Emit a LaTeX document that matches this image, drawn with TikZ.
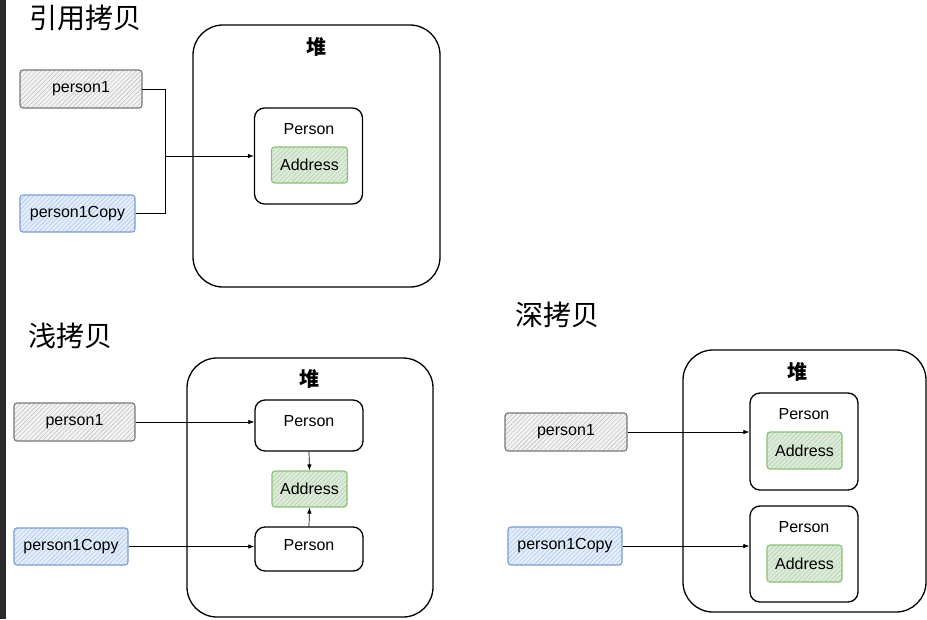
\documentclass[tikz,border=0pt]{standalone}
\usepackage{fontspec}
\setmainfont{Liberation Sans}
\newfontfamily\cjk{Noto Sans CJK SC}
\usetikzlibrary{patterns.meta,arrows.meta}
\definecolor{stripdark}{HTML}{2B2B2B}
\definecolor{grayfill}{HTML}{F2F2F2}
\definecolor{grayline}{HTML}{777777}
\definecolor{grayhatch}{HTML}{BBBBBB}
\definecolor{bluefill}{HTML}{E3EDFB}
\definecolor{blueline}{HTML}{7A9CCF}
\definecolor{bluehatch}{HTML}{A9C1E6}
\definecolor{greenfill}{HTML}{DDEBDA}
\definecolor{greenline}{HTML}{8CBF78}
\definecolor{greenhatch}{HTML}{AFCDA6}
\tikzset{
  txt/.style={font=\fontsize{16}{19}\selectfont, inner sep=0},
  title/.style={font=\cjk\fontsize{28}{32}\selectfont, inner sep=0},
  heaptxt/.style={font=\cjk\bfseries\fontsize{20}{24}\selectfont, inner sep=0},
  hatchbox/.style={line width=1.1pt, rounded corners=3pt, inner sep=0, txt,
    pattern={Lines[angle=45,distance=3.2pt,line width=0.45pt]}},
  gbox/.style={hatchbox, draw=grayline, preaction={fill=grayfill}, pattern color=grayhatch},
  bbox/.style={hatchbox, draw=blueline, preaction={fill=bluefill}, pattern color=bluehatch},
  abox/.style={hatchbox, draw=greenline, preaction={fill=greenfill}, pattern color=greenhatch,
    minimum width=76pt, minimum height=36pt},
  heap/.style={draw=black, line width=1.3pt, rounded corners=30pt, inner sep=0},
  pbox/.style={draw=black, line width=1.3pt, rounded corners=10pt, inner sep=0, minimum width=108pt},
  conn/.style={draw=black, line width=0.7pt},
  arr/.style={conn, -{Latex[length=6pt,width=4.5pt]}}
}
\begin{document}
\begin{tikzpicture}[x=1pt,y=-1pt]
\useasboundingbox (0,0) rectangle (927,619);
\fill[stripdark] (0,0) rectangle (6,619);

% ---------- 引用拷贝 ----------
\node[title] (t1) at (86,18) {引用拷贝};
\node[heap, minimum width=247pt, minimum height=262pt] (heap1) at (316.5,156) {};
\node[heaptxt] (h1) at (316,47) {堆};
\node[gbox, minimum width=122pt, minimum height=38pt] (p1a) at (81,89) {person1};
\node[bbox, minimum width=115pt, minimum height=37pt] (pc1a) at (77.5,213.5) {person1Copy};
\node[pbox, minimum height=96pt] (personA) at (308.5,156) {};
\node[txt] (personAt) at (309,129) {Person};
\node[abox] (addrA) at (309.5,165) {Address};
\coordinate (j1) at (165,156);
\draw[conn] (p1a.east) -| (j1);
\draw[conn] (pc1a.east) -| (j1);
\draw[arr] (j1) -- (personA.west);

% ---------- 浅拷贝 ----------
\node[title] (t2) at (70,336) {浅拷贝};
\node[heap, minimum width=246pt, minimum height=259pt] (heap2) at (310,487.5) {};
\node[heaptxt] (h2) at (309,379) {堆};
\node[gbox, minimum width=121pt, minimum height=38pt] (p1b) at (74.5,422) {person1};
\node[bbox, minimum width=114pt, minimum height=37pt] (pc1b) at (71,546.5) {person1Copy};
\node[pbox, minimum height=51pt] (personB1) at (309,425.5) {};
\node[txt] (personB1t) at (309,421) {Person};
\node[abox, minimum width=75pt] (addrB) at (309.5,489) {Address};
\node[pbox, minimum height=44pt] (personB2) at (309,549) {};
\node[txt] (personB2t) at (309,545) {Person};
\draw[arr] (p1b.east) -- (p1b.east -| personB1.west);
\draw[arr] (pc1b.east) -- (pc1b.east -| personB2.west);
\draw[arr] (personB1.south) -- (addrB.north);
\draw[arr] (personB2.north) -- (addrB.south);

% ---------- 深拷贝 ----------
\node[title] (t3) at (557,315) {深拷贝};
\node[heap, minimum width=243pt, minimum height=262pt] (heap3) at (804.5,481) {};
\node[heaptxt] (h3) at (797,372) {堆};
\node[gbox, minimum width=122pt, minimum height=38pt] (p1c) at (566,432) {person1};
\node[bbox, minimum width=114pt, minimum height=38pt] (pc1c) at (565,546) {person1Copy};
\node[pbox, minimum height=97pt] (personC1) at (804,441.5) {};
\node[txt] (personC1t) at (804,414) {Person};
\node[abox, minimum width=75pt, minimum height=37pt] (addrC1) at (804.5,450.5) {Address};
\node[pbox, minimum height=96pt] (personC2) at (804,554) {};
\node[txt] (personC2t) at (804,527) {Person};
\node[abox, minimum width=75pt, minimum height=37pt] (addrC2) at (804.5,563.5) {Address};
\draw[arr] (p1c.east) -- (p1c.east -| personC1.west);
\draw[arr] (pc1c.east) -- (pc1c.east -| personC2.west);
\end{tikzpicture}
\end{document}
